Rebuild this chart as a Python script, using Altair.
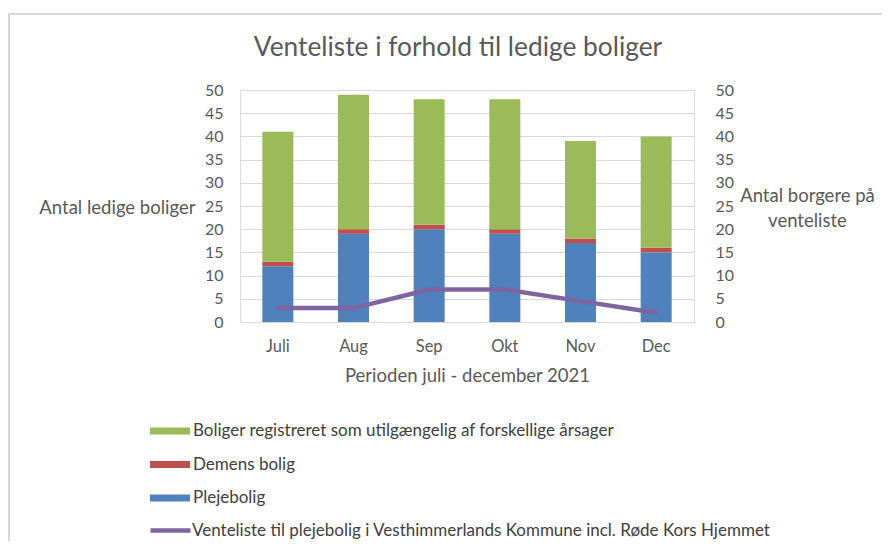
import altair as alt
import pandas as pd

months = ["Juli", "Aug", "Sep", "Okt", "Nov", "Dec"]
plejebolig = [12, 19, 20, 19, 17, 15]
demens = [1, 1, 1, 1, 1, 1]
utilgaengelig = [28, 29, 27, 28, 21, 24]
venteliste = [3, 3, 7, 7, 4.5, 2]

title_text = "Venteliste i forhold til ledige boliger"
s_green = "Boliger registreret som utilgængelig af forskellige årsager"
s_red = "Demens bolig"
s_blue = "Plejebolig"
s_line = "Venteliste til plejebolig i Vesthimmerlands Kommune incl. Røde Kors Hjemmet"

rows = []
for i, m in enumerate(months):
    rows.append({"month": m, "series": s_blue, "value": plejebolig[i], "ord": 0})
    rows.append({"month": m, "series": s_red, "value": demens[i], "ord": 1})
    rows.append({"month": m, "series": s_green, "value": utilgaengelig[i], "ord": 2})
bars_df = pd.DataFrame(rows)
line_df = pd.DataFrame({"month": months, "value": venteliste, "series": [s_line] * len(months)})

FONT = "Lato"
GRAY = "#595959"
ticks = list(range(0, 55, 5))

x_enc = alt.X("month:N", sort=months, title="Perioden juli - december 2021",
              scale=alt.Scale(paddingInner=0.5, paddingOuter=0.25),
              axis=alt.Axis(labelAngle=0, domain=False, ticks=False, labelFontSize=16.5,
                            labelColor=GRAY, labelFont=FONT, labelPadding=16,
                            titleFontSize=18.5, titleFont=FONT, titleColor=GRAY,
                            titleFontWeight="normal", titlePadding=12))

border = alt.Chart(pd.DataFrame({"a": [0]})).mark_rect(
    filled=False, stroke="#d9d9d9", strokeWidth=2
).encode(x=alt.value(-231), x2=alt.value(700), y=alt.value(-76), y2=alt.value(520))

title = alt.Chart(pd.DataFrame({"t": [title_text]})).mark_text(
    font=FONT, fontSize=26.3, color=GRAY, align="center", baseline="middle"
).encode(x=alt.value(218), y=alt.value(-42), text="t:N")

bars = alt.Chart(bars_df).mark_bar(size=31).encode(
    x=x_enc,
    y=alt.Y("value:Q", stack="zero", title="Antal ledige boliger",
            scale=alt.Scale(domain=[0, 50], nice=False),
            axis=alt.Axis(values=ticks, domain=False, ticks=False, grid=True,
                          gridColor="#d9d9d9", gridWidth=1, labelFontSize=16,
                          labelColor=GRAY, labelFont=FONT, labelPadding=17,
                          titleAngle=0, titleAlign="right", titleBaseline="middle",
                          titleX=-45, titleY=117, titleFontSize=18.5, titleFont=FONT,
                          titleColor=GRAY, titleFontWeight="normal")),
    color=alt.Color("series:N",
                    scale=alt.Scale(domain=[s_green, s_red, s_blue],
                                    range=["#9BBB59", "#C0504D", "#4F81BD"]),
                    legend=alt.Legend(title=None, orient="none", legendX=-80, legendY=331,
                                      symbolType="M-2,-0.35H2V0.35H-2Z", symbolSize=400,
                                      symbolStrokeWidth=0, symbolOpacity=1,
                                      labelOffset=13, rowPadding=15.5, padding=0,
                                      labelFontSize=17, labelFont=FONT, labelColor="#404040",
                                      labelLimit=800)),
    order=alt.Order("ord:Q", sort="ascending"),
)

line = alt.Chart(line_df).mark_line(strokeWidth=4.5, strokeCap="round").encode(
    x=alt.X("month:N", sort=months),
    y=alt.Y("value:Q", title=["Antal borgere på", "venteliste"],
            scale=alt.Scale(domain=[0, 50], nice=False),
            axis=alt.Axis(orient="right", values=ticks, domain=False, ticks=False, grid=False,
                          labelFontSize=16, labelColor=GRAY, labelFont=FONT, labelPadding=21,
                          titleAngle=0, titleAlign="center", titleBaseline="middle",
                          titleX=113, titleY=105, titleFontSize=18.5, titleFont=FONT,
                          titleColor=GRAY, titleFontWeight="normal", titleLineHeight=25)),
    stroke=alt.Stroke("series:N", scale=alt.Scale(domain=[s_line], range=["#8064A2"]),
                      legend=alt.Legend(title=None, orient="none", legendX=-82, legendY=428,
                                        symbolType="M-2,0H2", symbolSize=400,
                                        symbolStrokeWidth=4.5, labelOffset=9, padding=0,
                                        labelFontSize=17, labelFont=FONT, labelColor="#404040",
                                        labelLimit=800)),
)

chart = alt.layer(border, title, bars, line).resolve_scale(y="independent").properties(
    width=454, height=232,
    padding={"left": 232, "top": 82, "right": 188, "bottom": 219},
    autosize=alt.AutoSizeParams(type="none"),
).configure_view(stroke=None).configure(background="white")

chart.save("out.html", embed_options={"renderer": "svg", "actions": False})
